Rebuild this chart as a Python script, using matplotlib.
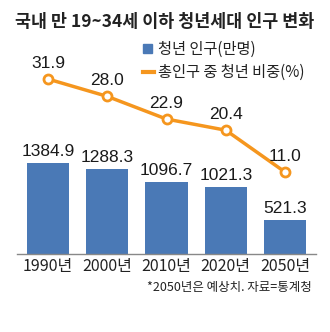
import matplotlib.pyplot as plt
import numpy as np

years = ["1990년", "2000년", "2010년", "2020년", "2050년"]
population = [1384.9, 1288.3, 1096.7, 1021.3, 521.3]   # 만명
share = [31.9, 28.0, 22.9, 20.4, 11.0]                 # %

blue = "#4a79b6"
orange = "#f5961e"
kr = ["Noto Sans CJK KR", "DejaVu Sans"]
num = ["Liberation Sans Narrow", "Liberation Sans", "DejaVu Sans"]

W, H = 330, 332
fig = plt.figure(figsize=(W / 100, H / 100), dpi=100)
ax = fig.add_axes([17 / W, (H - 254) / H, (316 - 17) / W, (254 - 40) / H])
x = np.arange(len(years))

ax.bar(x, population, width=0.71, color=blue, zorder=2)
ax.set_xlim(-0.523, 4.523)
ax.set_ylim(0, 3257)
for xi, v in zip(x, population):
    ax.annotate(f"{v:.1f}", (xi, v), xytext=(0, 3), textcoords="offset points",
                ha="center", va="bottom", fontsize=12.5, family=num, color="#1a1a1a")

ax.set_xticks(x)
ax.set_xticklabels(years, family=kr, fontsize=11.5, color="#222222")
ax.tick_params(axis="x", length=0, pad=3)
ax.set_yticks([])
for s in ["top", "right", "left"]:
    ax.spines[s].set_visible(False)
ax.spines["bottom"].set_color("#888888")
ax.spines["bottom"].set_linewidth(1)

ax2 = ax.twinx()
ax2.set_ylim(-7.42, 40.67)
ax2.plot(x, share, color=orange, lw=2.5, marker="o", ms=6.5,
         mfc="white", mec=orange, mew=2, zorder=3)
for xi, v in zip(x, share):
    ax2.annotate(f"{v:.1f}", (xi, v), xytext=(0, 6), textcoords="offset points",
                 ha="center", va="bottom", fontsize=12.5, family=num, color="#1a1a1a")
ax2.axis("off")

fig.text(0.5, 1 - 22 / H, "국내 만 19~34세 이하 청년세대 인구 변화", ha="center", va="center",
         fontsize=12.5, fontweight="heavy", family=kr, color="#222222")

# legend
fig.patches.append(plt.Rectangle((143 / W, 1 - 53 / H), 9 / W, 9 / H,
                                 transform=fig.transFigure, color=blue))
fig.text(158 / W, 1 - 49 / H, "청년 인구(만명)", ha="left", va="center",
         fontsize=11, family=kr, color="#222222")
fig.lines.append(plt.Line2D([143 / W, 154 / W], [1 - 72 / H, 1 - 72 / H],
                            transform=fig.transFigure, color=orange, lw=3))
fig.text(158 / W, 1 - 72 / H, "총인구 중 청년 비중(%)", ha="left", va="center",
         fontsize=11, family=kr, color="#222222")

fig.text(312 / W, 1 - 288 / H, "*2050년은 예상치. 자료=통계청", ha="right", va="center",
         fontsize=9, family=kr, color="#222222")

fig.savefig("out.png", dpi=100, facecolor="white")
